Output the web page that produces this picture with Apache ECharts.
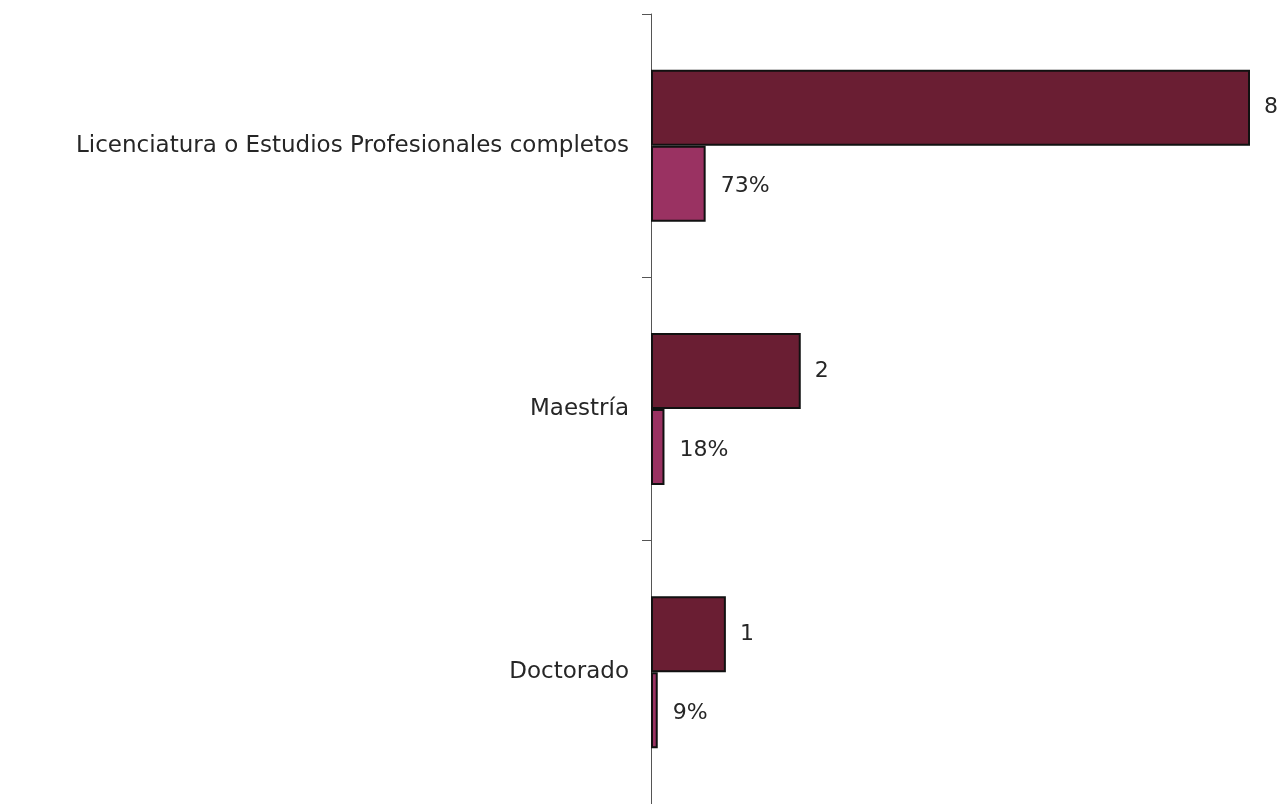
<!DOCTYPE html>
<html>
<head>
<meta charset="utf-8">
<script src="https://cdn.jsdelivr.net/npm/echarts@6/dist/echarts.min.js"></script>
<style>
  html, body { margin: 0; padding: 0; background: #ffffff; }
  #chart { width: 1281px; height: 804px; }
</style>
</head>
<body>
<div id="chart"></div>
<script>
// Nivel de estudios: número de personas y su porcentaje del total
const categories = ['Licenciatura o Estudios Profesionales completos', 'Maestría', 'Doctorado'];
const counts = [8, 2, 1];
const percents = [73, 18, 9];

const chart = echarts.init(document.getElementById('chart'));

const labelFont = '"DejaVu Sans", sans-serif';

chart.setOption({
  animation: false,
  backgroundColor: '#ffffff',
  grid: { left: 651, top: 14, width: 599, height: 794, containLabel: false },
  xAxis: {
    type: 'value',
    min: 0,
    max: 8,
    show: false
  },
  yAxis: {
    type: 'category',
    data: categories,
    inverse: true,
    axisLine: { show: true, lineStyle: { color: '#555555', width: 1 } },
    axisTick: { show: true, length: 9, lineStyle: { color: '#555555', width: 1 } },
    axisLabel: {
      margin: 22,
      color: '#262626',
      fontSize: 23,
      fontFamily: labelFont
    },
    splitLine: { show: false }
  },
  series: [
    {
      name: 'Personas',
      type: 'bar',
      data: counts,
      barWidth: 76,
      barGap: '0%',
      itemStyle: { color: '#6A1E33', borderColor: '#111111', borderWidth: 2 },
      label: {
        show: true,
        position: 'right',
        distance: 14,
        color: '#262626',
        fontSize: 22,
        fontFamily: labelFont
      }
    },
    {
      name: 'Porcentaje',
      type: 'bar',
      // porcentajes dibujados como fracción sobre la misma escala
      data: percents.map(p => p / 100),
      barWidth: 76,
      barGap: '0%',
      itemStyle: { color: '#9A3262', borderColor: '#111111', borderWidth: 2 },
      label: {
        show: true,
        position: 'right',
        distance: 15,
        offset: [0, 3],
        color: '#262626',
        fontSize: 22,
        fontFamily: labelFont,
        formatter: p => percents[p.dataIndex] + '%'
      }
    }
  ]
});
</script>
</body>
</html>
